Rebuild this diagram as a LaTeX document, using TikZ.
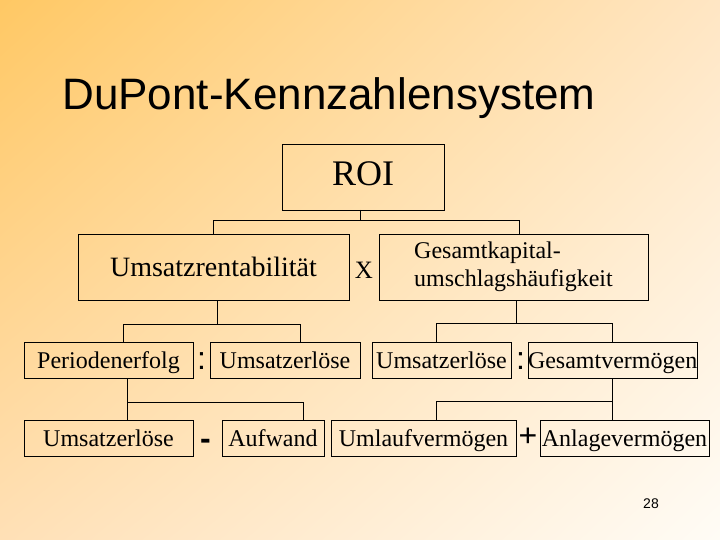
\documentclass[tikz,border=0pt]{standalone}
\usepackage{fontspec}
\setmainfont{Liberation Serif}
\newfontfamily\arialfont{Liberation Sans}
\usepackage{tikz}
\usetikzlibrary{positioning, calc, shadings}

\definecolor{bgorange}{HTML}{FFC864}
\definecolor{bgpeach}{HTML}{FFE0B6}
\definecolor{bglight}{HTML}{FFE6C4}
\definecolor{bgwhite}{HTML}{FFFCF6}

\begin{document}
\begin{tikzpicture}[
  x=1pt, y=-1pt,
  line width=0.8pt,
  kbox/.style  = {draw, rectangle, inner sep=0pt, outer sep=0pt},
  bigbox/.style = {kbox, minimum height=66pt},
  smbox/.style  = {kbox, minimum height=36pt, text height=16pt, text depth=0pt,
                   font=\fontsize{24}{28}\selectfont},
  op/.style     = {inner sep=0pt, font=\arialfont\fontsize{32}{32}\selectfont},
]
  % Background
  \useasboundingbox (0,0) rectangle (720,540);
  \shade[upper left=bgorange, lower left=bgpeach, upper right=bglight,
         lower right=bgwhite] (0,0) rectangle (720,540);

  % Title and page number
  \node[anchor=base west, inner sep=0pt, font=\arialfont\fontsize{44}{48}\selectfont]
      (title) at (62,110) {DuPont-Kennzahlensystem};
  \node[inner sep=0pt, font=\arialfont\fontsize{14}{16}\selectfont]
      (pnum) at (651,504) {28};

  % Level 1 and 2
  \node[bigbox, minimum width=162pt, text height=24pt, text depth=6pt,
        font=\fontsize{36}{40}\selectfont] (roi) at (363,177) {ROI};
  \node[bigbox, minimum width=271pt, text height=18.5pt, text depth=0pt,
        font=\fontsize{28}{32}\selectfont] (umsr) at (213.5,267) {Umsatzrentabilität};
  \node[bigbox, minimum width=269pt, right=30pt of umsr, align=left,
        font=\fontsize{24}{28}\selectfont] (gkap)
      {Gesamtkapital-\\umschlagshäufigkeit};

  % Level 3
  \node[smbox, minimum width=169pt] (perf) at (108.5,360) {Periodenerfolg};
  \node[smbox, minimum width=150pt, right=17pt of perf] (ue1) {Umsatzerlöse};
  \node[smbox, minimum width=139pt, right=12pt of ue1]  (ue2) {Umsatzerlöse};
  \node[smbox, minimum width=169pt, right=17pt of ue2]  (gv)  {Gesamtvermögen};

  % Level 4
  \node[smbox, minimum width=169pt] (ue3) at (108.5,438) {Umsatzerlöse};
  \node[smbox, minimum width=102pt, right=29pt of ue3]  (aufw) {Aufwand};
  \node[smbox, minimum width=185pt, right=7pt of aufw]  (ulv)  {Umlaufvermögen};
  \node[smbox, minimum width=169pt, right=24pt of ulv]  (alv)  {Anlagevermögen};

  % Operators
  \node[inner sep=0pt, font=\fontsize{25}{28}\selectfont] (mul)
      at ($(umsr.east)!0.5!(gkap.west)+(0,3)$) {X};
  \node[op] (div1) at ($(perf.east)!0.5!(ue1.west)+(0,1)$) {:};
  \node[op] (div2) at ($(ue2.east)!0.5!(gv.west)+(1,1)$)  {:};
  \node[op] (minus) at ($(ue3.east)!0.5!(aufw.west)+(-2,6)$) {\textbf{-}};
  \node[op] (plus)  at ($(ulv.east)!0.5!(alv.west)+(0,-1)$)  {+};

  % Connectors
  \draw ([xshift=-3pt]roi.south) -- ++(0,10);
  \draw (umsr.north) -- ++(0,-14) -| ([xshift=5.5pt]gkap.north);

  \draw ([xshift=3.5pt]umsr.south) -- ++(0,24);
  \draw ([xshift=14.5pt]perf.north) -- ++(0,-18) -| ([xshift=15pt]ue1.north);
  \draw ([xshift=2.5pt]gkap.south) -- ++(0,23);
  \draw ([xshift=-5.5pt]ue2.north) -- ++(0,-19) -| (gv.north);

  \draw ([xshift=18.5pt]perf.south) -- ([xshift=18.5pt]ue3.north);
  \draw ([xshift=18.5pt]perf.south) ++(0,24) -| ([xshift=30pt]aufw.north);
  \draw (gv.south) -- (gv.south |- alv.north);
  \draw (gv.south) ++(0,23) -| ([xshift=12.5pt]ulv.north);
\end{tikzpicture}
\end{document}
